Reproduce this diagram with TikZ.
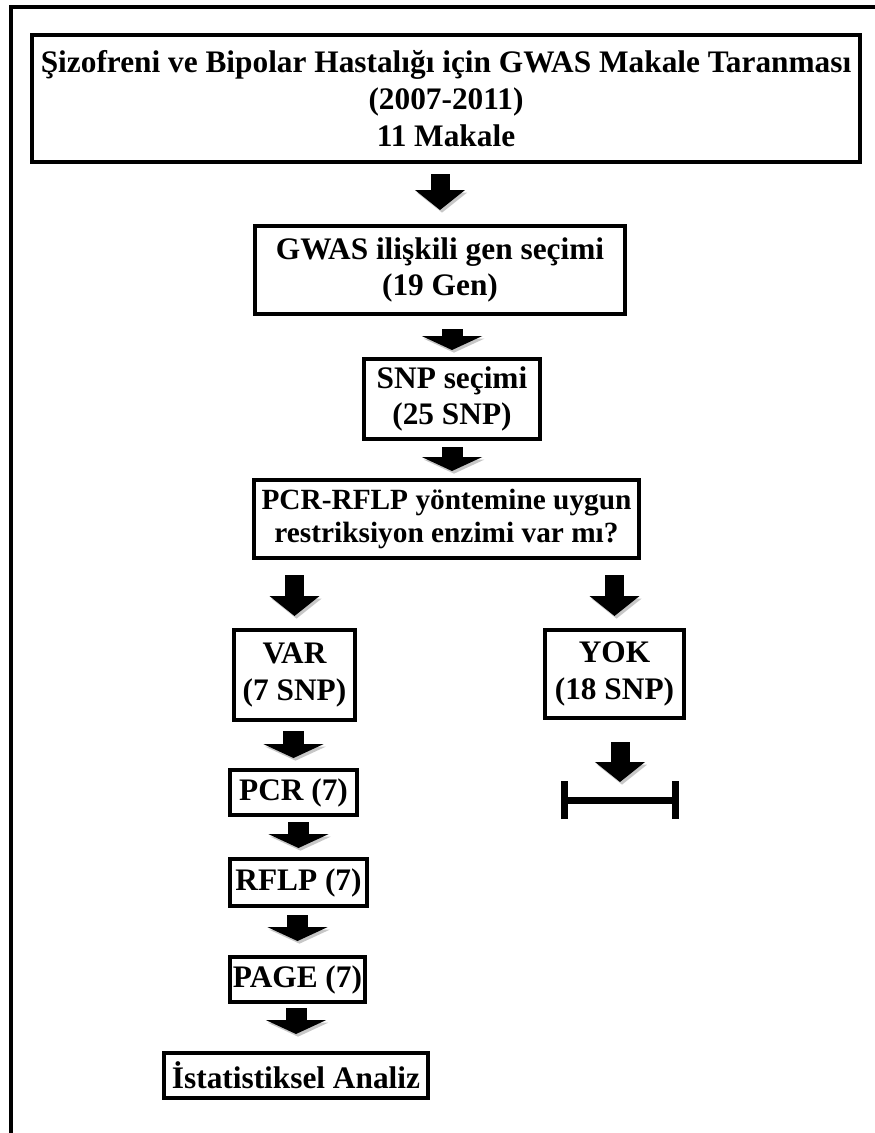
\documentclass[tikz,border=0pt]{standalone}
\usepackage{fontspec}
\setmainfont{Liberation Serif}
\usetikzlibrary{arrows.meta, positioning}

\begin{document}
\begin{tikzpicture}[
    x=0.75pt, y=-0.75pt,
    box/.style={draw, rectangle, line width=3pt, inner sep=0pt, text centered, align=center, font=\bfseries\fontsize{23.5}{27.5}\selectfont},
    bigarrow/.style={-{Triangle[width=36.75pt, length=15pt]}, line width=14.25pt, shorten <=10pt, shorten >=9pt, preaction={draw=black!22, transform canvas={shift={(1.5pt,-2pt)}}}},
    smallarrow/.style={-{Triangle[width=45pt, length=10.5pt]}, line width=15.75pt, shorten <=5pt, shorten >=7pt, preaction={draw=black!22, transform canvas={shift={(1.5pt,-2pt)}}}},
    stopbar/.style={{Bar[width=28.5pt]}-{Bar[width=28.5pt]}, line width=5.25pt}
]
\useasboundingbox (0,0) rectangle (875,1133);

% Cerceve
\draw[line width=3pt] (875,6.5) -- (11,6.5) -- (11,1133);

% Kutular
\node (tarama) [box, minimum width=621pt, minimum height=95.25pt] at (446,98.5) {Şizofreni ve Bipolar Hastalığı için GWAS Makale Taranması\\(2007-2011)\\11 Makale};
\node (gen) [box, minimum width=277.5pt, minimum height=66pt] at (440,270) {GWAS ilişkili gen seçimi\\(19 Gen)};
\node (snp) [box, minimum width=132pt, minimum height=60pt] at (452,399) {SNP seçimi\\(25 SNP)};
\node (enzim) [box, minimum width=288.75pt, minimum height=58.5pt, font=\bfseries\fontsize{22}{24.5}\selectfont] at (446.5,519) {PCR-RFLP yöntemine uygun\\restriksiyon enzimi var mı?};

% Iki kol
\node (var) [box, minimum width=90.75pt, minimum height=67.5pt] at (294.5,675) {VAR\\(7 SNP)};
\node (yok) [box, minimum width=104.25pt, minimum height=66pt] at (614.5,674) {YOK\\(18 SNP)};
\coordinate (dur) at (620,800);

\node (pcr) [box, minimum width=95.25pt, minimum height=33.75pt] at (293.5,792.5) {PCR (7)};
\node (rflp) [box, minimum width=102.75pt, minimum height=35.25pt] at (298.5,882.5) {RFLP (7)};
\node (page) [box, minimum width=101.25pt, minimum height=33.75pt] at (297.5,979.5) {PAGE (7)};
\node (analiz) [box, minimum width=198pt, minimum height=33.75pt] at (296,1075.5) {İstatistiksel Analiz};

% Oklar
\draw[bigarrow, shorten <=7.5pt, shorten >=10.5pt] (gen.north |- tarama.south) -- (gen.north);
\draw[smallarrow, shorten <=9.75pt, shorten >=5.25pt] (snp.north |- gen.south) -- (snp.north);
\draw[smallarrow, shorten <=4.5pt, shorten >=5.25pt] (snp.south) -- (snp.south |- enzim.north);
\draw[bigarrow, shorten <=11.25pt, shorten >=9pt] (var.north |- enzim.south) -- (var.north);
\draw[bigarrow, shorten <=11.25pt, shorten >=9pt] (yok.north |- enzim.south) -- (yok.north);
\draw[smallarrow, shorten <=6.75pt, shorten >=7.5pt] (pcr.north |- var.south) -- (pcr.north);
\draw[smallarrow, shorten <=3.75pt, shorten >=6.75pt] (rflp.north |- pcr.south) -- (rflp.north);
\draw[smallarrow, shorten <=5.25pt, shorten >=10.5pt] (page.north |- rflp.south) -- (page.north);
\draw[smallarrow, shorten <=3pt, shorten >=12.75pt] (analiz.north |- page.south) -- (analiz.north);
\draw[bigarrow, shorten <=16.5pt, shorten >=13.5pt] (dur |- yok.south) -- (dur);

% Son
\draw[stopbar] ([xshift=-44pt]dur) -- ([xshift=44pt]dur);

\end{tikzpicture}
\end{document}
